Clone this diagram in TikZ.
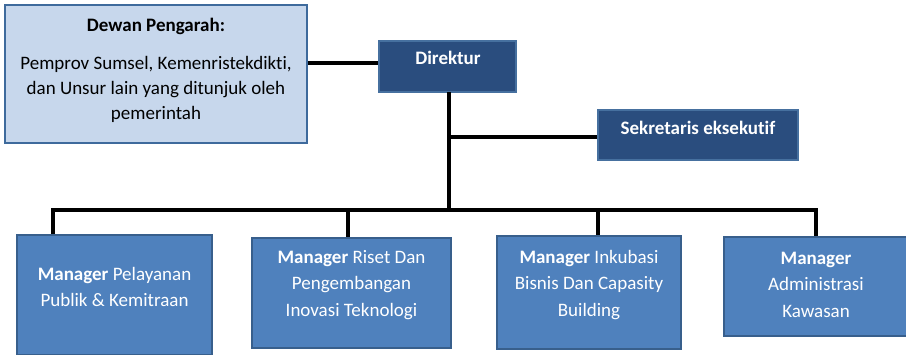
\documentclass[tikz,border=0pt]{standalone}
\usepackage{fontspec}
\setmainfont{Carlito}[Ligatures={NoCommon}]
\definecolor{lightfill}{HTML}{C7D7EC}
\definecolor{lightedge}{HTML}{3E6A9C}
\definecolor{darkfill}{HTML}{2A4D7E}
\definecolor{darkedge}{HTML}{46709F}
\definecolor{midfill}{HTML}{4F81BD}
\definecolor{midedge}{HTML}{385F8C}
\begin{document}
\begin{tikzpicture}[x=1pt,y=-1pt,
  box/.style={draw, line width=2pt, inner sep=0pt},
  lightbox/.style={box, fill=lightfill, draw=lightedge},
  darkbox/.style={box, fill=darkfill, draw=darkedge},
  midbox/.style={box, fill=midfill, draw=midedge},
  darktxt/.style={font=\fontsize{19}{25}\selectfont, text=black, align=center, inner sep=0pt},
  whitetxt/.style={font=\fontsize{19}{26.5}\selectfont, text=white, align=center, inner sep=0pt},
  link/.style={line width=3.2pt, black}
]
\useasboundingbox (0,0) rectangle (906,354);

% boxes
\node[lightbox, minimum width=302pt, minimum height=138pt] (dewan) at (156,74) {};
\node[darkbox, minimum width=137pt, minimum height=51pt] (direktur) at (447.5,66.5) {};
\node[darkbox, minimum width=200pt, minimum height=50pt] (sekretaris) at (698,135) {};
\node[midbox, minimum width=195pt, minimum height=120pt] (m1) at (114.5,295) {};
\node[midbox, minimum width=199pt, minimum height=110pt] (m2) at (351.5,293) {};
\node[midbox, minimum width=184pt, minimum height=113pt] (m3) at (589,292.5) {};
\node[midbox, minimum width=184pt, minimum height=99pt] (m4) at (816,286.5) {};

% texts
\node[darktxt, font=\fontsize{19}{25}\bfseries\selectfont] (dewanT) at (156,26) {Dewan Pengarah:};
\node[darktxt] (dewanB) at (156,89) {Pemprov Sumsel, Kemenristekdikti,\\dan Unsur lain yang ditunjuk oleh\\pemerintah};
\node[whitetxt, font=\fontsize{19}{26}\bfseries\selectfont] (direkturT) at (448,58) {Direktur};
\node[whitetxt, font=\fontsize{19}{26}\bfseries\selectfont] (sekretarisT) at (698,128) {Sekretaris eksekutif};
\node[whitetxt] (m1T) at (114.5,287) {\textbf{Manager} Pelayanan\\Publik \& Kemitraan};
\node[whitetxt] (m2T) at (351.5,285) {\textbf{Manager} Riset Dan\\Pengembangan\\Inovasi Teknologi};
\node[whitetxt] (m3T) at (589,285) {\textbf{Manager} Inkubasi\\Bisnis Dan Capasity\\Building};
\node[whitetxt] (m4T) at (816,284.5) {\textbf{Manager}\\Administrasi\\Kawasan};

% connectors
\coordinate (trunk) at (449,210);
\coordinate (sekJ) at (449,137);
\coordinate (busL) at (53,210);
\coordinate (busR) at (816,210);
\draw[link] (dewan.east |- 0,63) -- (direktur.west |- 0,63);
\draw[link] (449,92) -- (trunk);
\draw[link] (sekJ) -- (sekretaris.west |- sekJ);
\draw[link, line join=miter] (busL |- m1.north) -- (busL) -- (busR) -- (busR |- m4.north);
\draw[link] (348,210) -- (348,0 |- m2.north);
\draw[link] (598,210) -- (598,0 |- m3.north);
\end{tikzpicture}
\end{document}
